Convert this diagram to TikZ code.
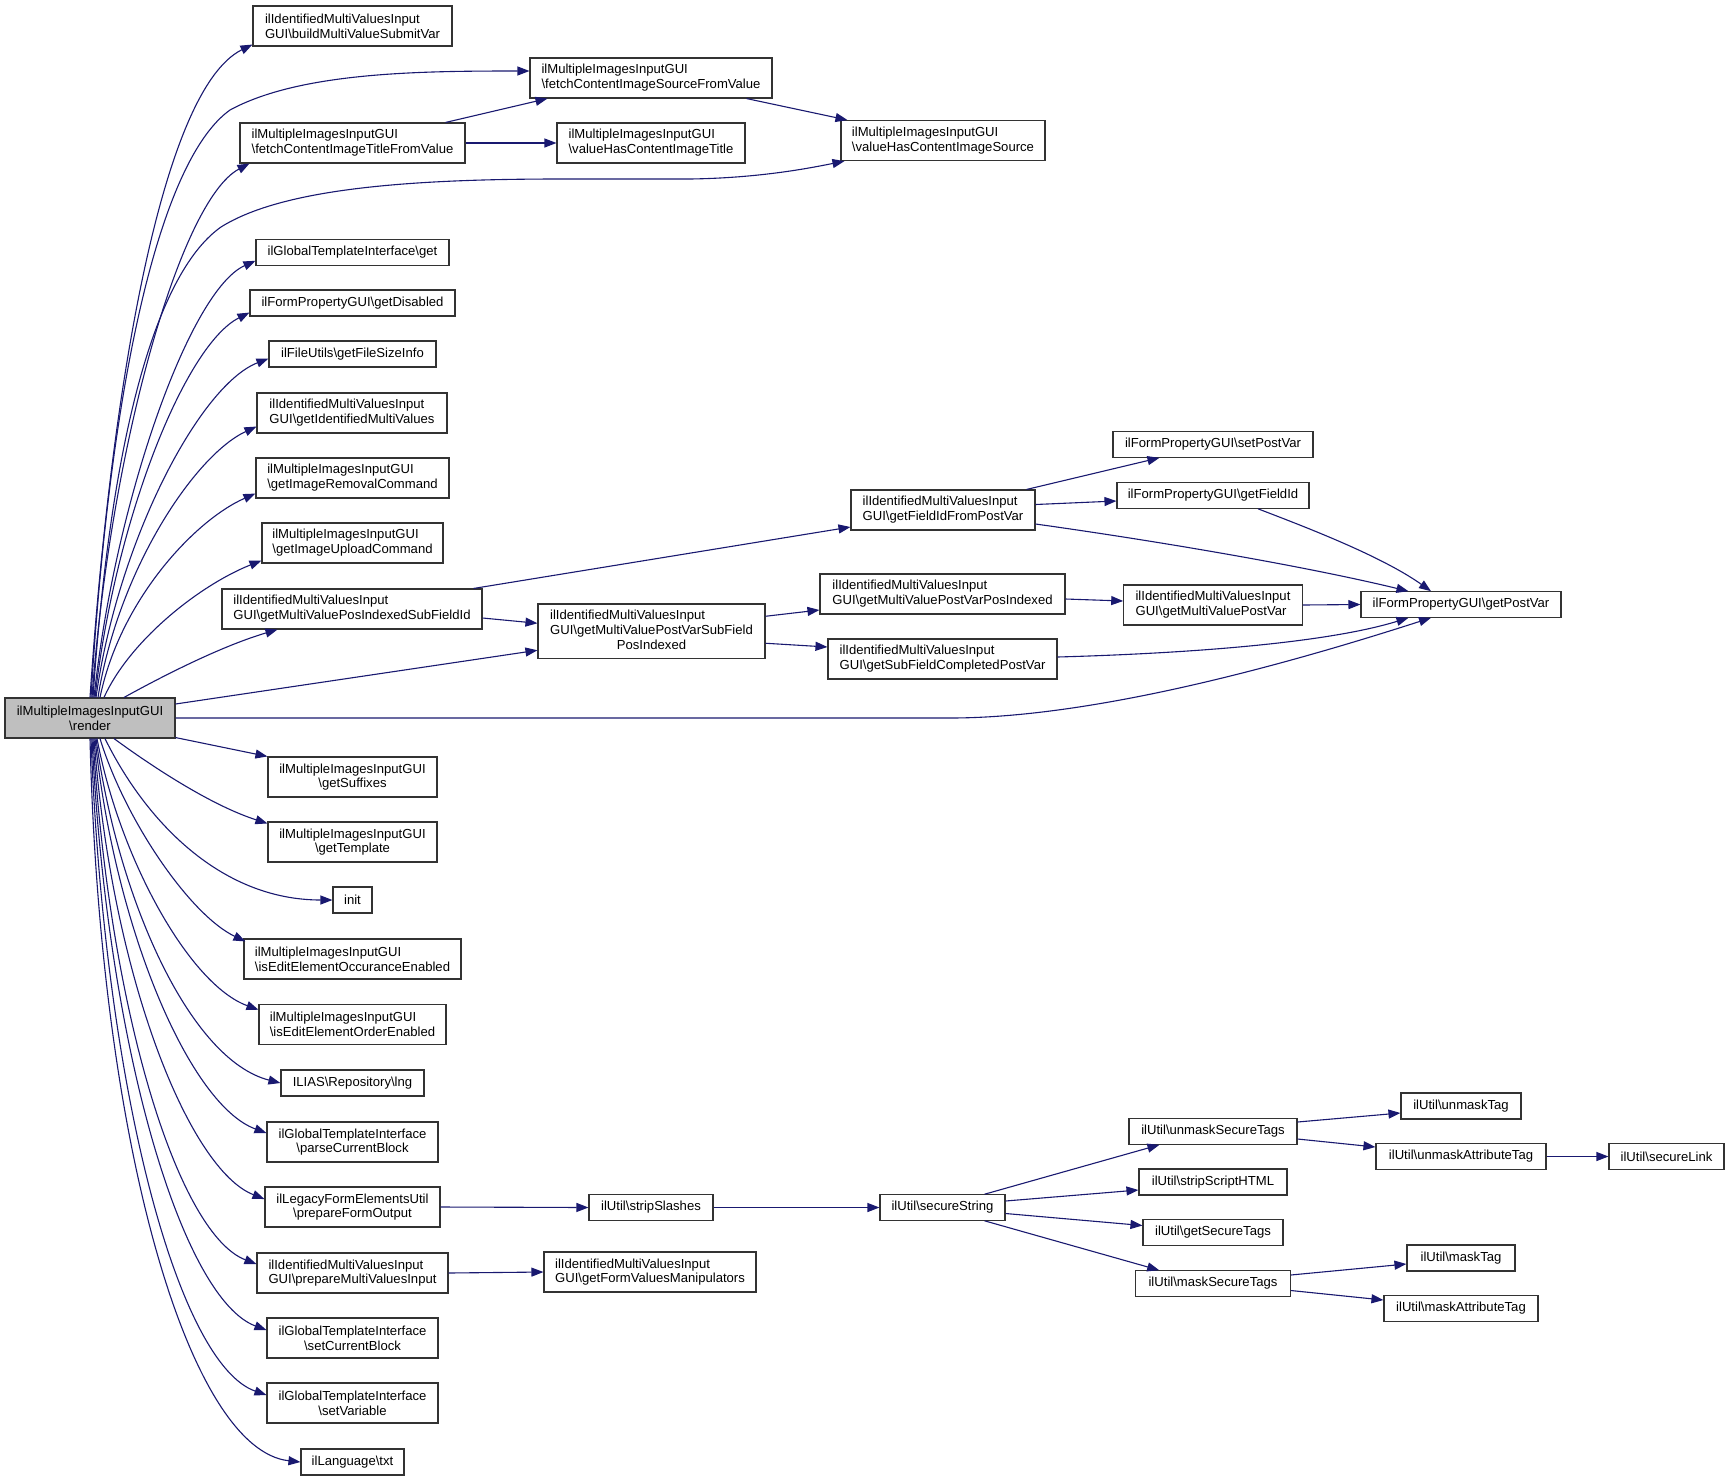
\documentclass[tikz,border=0pt]{standalone}
\usepackage{fontspec}
\setmainfont{Liberation Sans}
\usetikzlibrary{arrows.meta}
\definecolor{edgec}{RGB}{25,25,112}
\definecolor{rootfill}{RGB}{191,191,191}
\newcommand{\bsl}{\textbackslash}
\begin{document}
\begin{tikzpicture}[x=1pt,y=-1pt,
  box/.style={draw=black!80, line width=1.1pt, fill=white, inner sep=0pt,
    font=\fontsize{13.1}{14.8}\selectfont, align=left},
  cbox/.style={box, align=center},
  edge/.style={draw=edgec, line width=1.1pt, -{Triangle[length=12pt,width=9pt]}}]
\fill[white] (0,0) rectangle (1729,1481);
\useasboundingbox (0,0) rectangle (1729,1481);

% column 1
\node[cbox, fill=rootfill, minimum width=170pt, minimum height=40pt] (render) at (90,718) {ilMultipleImagesInputGUI\\\bsl render};

% column 2
\node[box, minimum width=199pt, minimum height=40pt] (bmv) at (352.5,26) {ilIdentifiedMultiValuesInput\\GUI\bsl buildMultiValueSubmitVar};
\node[box, minimum width=225pt, minimum height=40pt] (fct) at (352.5,143) {ilMultipleImagesInputGUI\\\bsl fetchContentImageTitleFromValue};
\node[box, minimum width=193pt, minimum height=25.5pt] (get) at (352.5,252.5) {ilGlobalTemplateInterface\bsl get};
\node[box, minimum width=205pt, minimum height=26pt] (gdis) at (352.5,303) {ilFormPropertyGUI\bsl getDisabled};
\node[box, minimum width=167pt, minimum height=26pt] (gfsi) at (352.5,354) {ilFileUtils\bsl getFileSizeInfo};
\node[box, minimum width=190pt, minimum height=40pt] (gimv) at (352,413) {ilIdentifiedMultiValuesInput\\GUI\bsl getIdentifiedMultiValues};
\node[box, minimum width=193pt, minimum height=40pt] (girc) at (352.5,478) {ilMultipleImagesInputGUI\\\bsl getImageRemovalCommand};
\node[box, minimum width=181pt, minimum height=40pt] (giuc) at (352.5,543) {ilMultipleImagesInputGUI\\\bsl getImageUploadCommand};
\node[box, minimum width=260pt, minimum height=40pt] (gmvpisf) at (352,609) {ilIdentifiedMultiValuesInput\\GUI\bsl getMultiValuePosIndexedSubFieldId};
\node[cbox, minimum width=169pt, minimum height=40pt] (gsuf) at (352.5,777) {ilMultipleImagesInputGUI\\\bsl getSuffixes};
\node[cbox, minimum width=169pt, minimum height=40pt] (gtpl) at (352.5,842) {ilMultipleImagesInputGUI\\\bsl getTemplate};
\node[box, minimum width=39pt, minimum height=26pt] (init) at (352.5,900) {init};
\node[box, minimum width=217pt, minimum height=40pt] (ieeoc) at (352.5,959) {ilMultipleImagesInputGUI\\\bsl isEditElementOccuranceEnabled};
\node[box, minimum width=187pt, minimum height=40.5pt] (ieeor) at (352.5,1024.5) {ilMultipleImagesInputGUI\\\bsl isEditElementOrderEnabled};
\node[box, minimum width=143pt, minimum height=26pt] (lng) at (352.5,1083) {ILIAS\bsl Repository\bsl lng};
\node[cbox, minimum width=171pt, minimum height=40pt] (pcb) at (352.5,1142) {ilGlobalTemplateInterface\\\bsl parseCurrentBlock};
\node[cbox, minimum width=175pt, minimum height=40pt] (pfo) at (352.5,1207) {ilLegacyFormElementsUtil\\\bsl prepareFormOutput};
\node[box, minimum width=191pt, minimum height=40pt] (pmvi) at (352.5,1273) {ilIdentifiedMultiValuesInput\\GUI\bsl prepareMultiValuesInput};
\node[cbox, minimum width=171pt, minimum height=40pt] (scb) at (352.5,1338) {ilGlobalTemplateInterface\\\bsl setCurrentBlock};
\node[cbox, minimum width=171pt, minimum height=40pt] (svar) at (352.5,1403) {ilGlobalTemplateInterface\\\bsl setVariable};
\node[box, minimum width=103pt, minimum height=26pt] (txt) at (352.5,1462) {ilLanguage\bsl txt};

% column 3
\node[box, minimum width=242pt, minimum height=40pt] (fsrc) at (651,78) {ilMultipleImagesInputGUI\\\bsl fetchContentImageSourceFromValue};
\node[box, minimum width=188pt, minimum height=40pt] (vhcit) at (651,143) {ilMultipleImagesInputGUI\\\bsl valueHasContentImageTitle};
\node[box, minimum width=227pt, minimum height=54.5pt] (gmvpvsfpi) at (651.5,631.25) {\begin{tabular}{@{}l@{}}ilIdentifiedMultiValuesInput\\GUI\bsl getMultiValuePostVarSubField\\\multicolumn{1}{@{}c@{}}{PosIndexed}\end{tabular}};
\node[box, minimum width=124pt, minimum height=25.5pt] (strip) at (651,1207.5) {ilUtil\bsl stripSlashes};
\node[box, minimum width=212pt, minimum height=40pt] (gfvm) at (650,1272) {ilIdentifiedMultiValuesInput\\GUI\bsl getFormValuesManipulators};

% column 4
\node[box, minimum width=204pt, minimum height=40pt] (vhcis) at (943,140.6) {ilMultipleImagesInputGUI\\\bsl valueHasContentImageSource};
\node[box, minimum width=184pt, minimum height=40pt] (gfifpv) at (943,510) {ilIdentifiedMultiValuesInput\\GUI\bsl getFieldIdFromPostVar};
\node[box, minimum width=245pt, minimum height=40pt] (gmvpvpi) at (942.5,594) {ilIdentifiedMultiValuesInput\\GUI\bsl getMultiValuePostVarPosIndexed};
\node[box, minimum width=229pt, minimum height=40pt] (gsfcpv) at (942.5,659) {ilIdentifiedMultiValuesInput\\GUI\bsl getSubFieldCompletedPostVar};
\node[box, minimum width=125pt, minimum height=25.5pt] (secstr) at (942.5,1207.5) {ilUtil\bsl secureString};

% column 5
\node[box, minimum width=200pt, minimum height=25.5pt] (setpv) at (1213,444.5) {ilFormPropertyGUI\bsl setPostVar};
\node[box, minimum width=192pt, minimum height=25.5pt] (gfid) at (1213,495.5) {ilFormPropertyGUI\bsl getFieldId};
\node[box, minimum width=178.5pt, minimum height=40pt] (gmvpv) at (1213,605) {ilIdentifiedMultiValuesInput\\GUI\bsl getMultiValuePostVar};
\node[box, minimum width=168pt, minimum height=25.5pt] (umst) at (1213,1131.5) {ilUtil\bsl unmaskSecureTags};
\node[box, minimum width=148pt, minimum height=26pt] (ssh) at (1213,1182) {ilUtil\bsl stripScriptHTML};
\node[box, minimum width=140pt, minimum height=25.5pt] (gst) at (1213,1232.5) {ilUtil\bsl getSecureTags};
\node[box, minimum width=154.5pt, minimum height=25.5pt] (mst) at (1213,1283.5) {ilUtil\bsl maskSecureTags};

% column 6
\node[box, minimum width=200pt, minimum height=25.5pt] (gpv) at (1461,604.5) {ilFormPropertyGUI\bsl getPostVar};
\node[box, minimum width=120pt, minimum height=26pt] (umt) at (1461,1106) {ilUtil\bsl unmaskTag};
\node[box, minimum width=170pt, minimum height=25.5pt] (umat) at (1461,1156.5) {ilUtil\bsl unmaskAttributeTag};
\node[box, minimum width=108pt, minimum height=26pt] (mt) at (1461,1258) {ilUtil\bsl maskTag};
\node[box, minimum width=154pt, minimum height=25.5pt] (mat) at (1461,1308.5) {ilUtil\bsl maskAttributeTag};

% column 7
\node[box, minimum width=115pt, minimum height=25.5pt] (slink) at (1666.5,1156.5) {ilUtil\bsl secureLink};

% ---- edges from render, upper fan
\draw[edge] (render.north) .. controls (110,400) and (160,90) .. ([yshift=2pt]bmv.south west);
\draw[edge] ([xshift=1pt]render.north) .. controls (110,380) and (160,160) .. (230,110) .. controls (300,72) and (420,71) .. ([yshift=7pt]fsrc.west);
\draw[edge] ([xshift=2pt]render.north) .. controls (110,450) and (180,200) .. ([xshift=10pt]fct.south west);
\draw[edge] ([xshift=3pt]render.north) .. controls (112,420) and (160,270) .. (221,227) .. controls (280,190) and (400,179) .. (560,179) -- (690,179) .. controls (760,178) and (810,168) .. ([xshift=4pt]vhcis.south west);
\draw[edge] ([xshift=4pt]render.north) .. controls (115,500) and (190,290) .. ([yshift=5pt]get.south west);
\draw[edge] ([xshift=5pt]render.north) .. controls (115,520) and (185,345) .. ([yshift=4pt]gdis.south west);
\draw[edge] ([xshift=6pt]render.north) .. controls (118,540) and (200,385) .. ([yshift=9pt]gfsi.south west);
\draw[edge] ([xshift=8pt]render.north) .. controls (118,570) and (195,455) .. ([yshift=7pt]gimv.south west);
\draw[edge] ([xshift=10pt]render.north) .. controls (120,600) and (195,520) .. ([yshift=5pt]girc.south west);
\draw[edge] ([xshift=14pt]render.north) .. controls (130,640) and (200,585) .. ([yshift=3pt]giuc.south west);
\draw[edge] ([xshift=34pt]render.north) .. controls (170,672) and (225,645) .. ([xshift=56pt]gmvpisf.south west);

% ---- edges from render, right side
\draw[edge] ([yshift=14pt]render.east) -- ([yshift=-19pt]gmvpvsfpi.west);
\draw[edge] (render.east) -- (950,718) .. controls (1100,718) and (1300,660) .. ([xshift=-30pt]gpv.south);

% ---- edges from render, lower fan
\draw[edge] ([yshift=1pt]render.south east) -- (gsuf.north west);
\draw[edge] ([xshift=24pt]render.south) .. controls (150,765) and (210,805) .. ([yshift=-2pt]gtpl.north west);
\draw[edge] ([xshift=15pt]render.south) .. controls (145,820) and (220,900) .. (init.west);
\draw[edge] ([xshift=10pt]render.south) .. controls (125,820) and (190,915) .. ([xshift=2pt,yshift=-3pt]ieeoc.north west);
\draw[edge] ([xshift=7pt]render.south) .. controls (120,860) and (190,985) .. ([yshift=-6pt]ieeor.north west);
\draw[edge] ([xshift=6pt]render.south) .. controls (118,900) and (190,1060) .. (lng.west);
\draw[edge] ([xshift=5pt]render.south) .. controls (115,930) and (190,1105) .. ([yshift=9pt]pcb.west);
\draw[edge] ([xshift=4pt]render.south) .. controls (112,980) and (190,1170) .. ([yshift=8pt]pfo.west);
\draw[edge] ([xshift=3pt]render.south) .. controls (110,1020) and (180,1235) .. ([yshift=9pt]pmvi.west);
\draw[edge] ([xshift=2pt]render.south) .. controls (108,1060) and (185,1300) .. ([yshift=8pt]scb.west);
\draw[edge] ([xshift=1pt]render.south) .. controls (105,1100) and (180,1365) .. ([yshift=8pt]svar.west);
\draw[edge] (render.south) .. controls (100,1150) and (190,1450) .. (txt.west);

% ---- other edges
\draw[edge] ([xshift=-20pt]fct.north east) -- ([xshift=18pt]fsrc.south west);
\draw[edge] (fct.east) -- (vhcit.west);
\draw[edge] ([xshift=-26pt]fsrc.south east) -- ([xshift=7pt]vhcis.north west);
\draw[edge] ([xshift=-9pt]gmvpisf.north east) -- ([yshift=-17pt]gfifpv.west);
\draw[edge] ([yshift=-9pt]gmvpisf.east) -- ([yshift=8pt]gmvpvsfpi.west);
\draw[edge] ([yshift=15pt]gmvpvsfpi.east) -- ([yshift=-16pt]gmvpvpi.west);
\draw[edge] ([yshift=-12pt]gmvpvsfpi.east) -- ([yshift=12pt]gsfcpv.west);
\draw[edge] ([xshift=-9pt]gfifpv.north east) -- ([xshift=47pt]setpv.south west);
\draw[edge] ([yshift=5.5pt]gfifpv.east) -- ([yshift=-5.5pt]gfid.west);
\draw[edge] ([yshift=-14pt]gfifpv.east) .. controls (1150,540) and (1300,565) .. ([xshift=48pt]gpv.north west);
\draw[edge] ([xshift=45pt]gfid.south) .. controls (1300,525) and (1380,555) .. ([xshift=-30pt]gpv.north);
\draw[edge] ([yshift=-5pt]gmvpvpi.east) -- ([yshift=4pt]gmvpv.west);
\draw[edge] (gmvpv.east) -- (gpv.west);
\draw[edge] ([yshift=2pt]gsfcpv.east) .. controls (1200,653) and (1330,642) .. ([xshift=48pt]gpv.south west);
\draw[edge] (pfo.east) -- (strip.west);
\draw[edge] (strip.east) -- (secstr.west);
\draw[edge] (pmvi.east) -- (gfvm.west);
\draw[edge] ([xshift=-21pt]secstr.north east) -- ([xshift=31pt]umst.south west);
\draw[edge] ([yshift=6.5pt]secstr.east) -- ([yshift=-8pt]ssh.west);
\draw[edge] ([yshift=-6pt]secstr.east) -- ([yshift=7pt]gst.west);
\draw[edge] ([xshift=-21pt]secstr.south east) -- ([xshift=24pt]mst.north west);
\draw[edge] ([yshift=9.5pt]umst.east) -- ([yshift=-7pt]umt.west);
\draw[edge] ([yshift=-7.5pt]umst.east) -- ([yshift=9.5pt]umat.west);
\draw[edge] (umat.east) -- (slink.west);
\draw[edge] ([yshift=8.5pt]mst.east) -- ([yshift=-6pt]mt.west);
\draw[edge] ([yshift=-7pt]mst.east) -- ([yshift=8.5pt]mat.west);
\end{tikzpicture}
\end{document}
